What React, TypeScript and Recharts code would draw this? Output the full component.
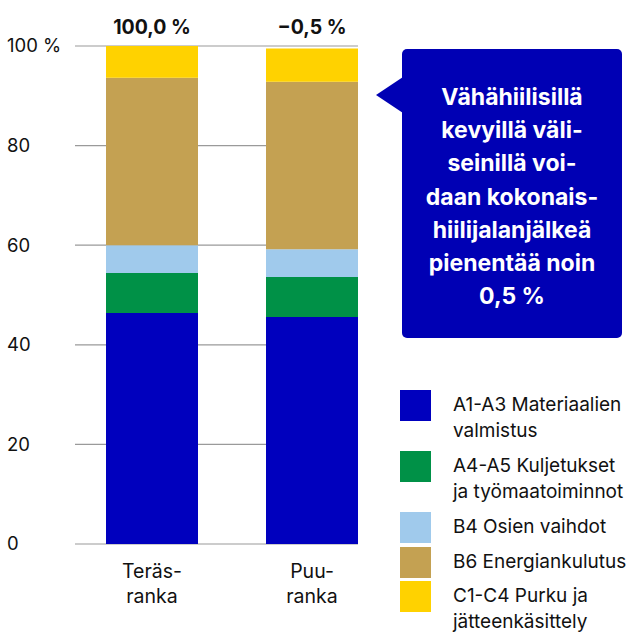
import { BarChart, Bar, XAxis, YAxis, CartesianGrid, LabelList } from "recharts";

const categories = ["Teräsranka", "Puuranka"];
const categoryLines = [
  ["Teräs-", "ranka"],
  ["Puu-", "ranka"],
];
const a1a3 = [46.4, 45.6];
const a4a5 = [8.0, 8.0];
const b4 = [5.6, 5.6];
const b6 = [33.6, 33.6];
const c1c4 = [6.4, 6.7];
const totals = ["100,0 %", "\u22120,5 %"];
const yTicks = [0, 20, 40, 60, 80, 100];

const seriesKeys = ["a1a3", "a4a5", "b4", "b6", "c1c4"];
const seriesColors = ["#0000BE", "#009147", "#A0CAEC", "#C4A152", "#FFD200"];
const seriesLabels = [
  ["A1-A3 Materiaalien", "valmistus"],
  ["A4-A5 Kuljetukset", "ja työmaatoiminnot"],
  ["B4 Osien vaihdot"],
  ["B6 Energiankulutus"],
  ["C1-C4 Purku ja", "jätteenkäsittely"],
];
const calloutLines = [
  "Vähähiilisillä",
  "kevyillä väli-",
  "seinillä voi-",
  "daan kokonais-",
  "hiilijalanjälkeä",
  "pienentää noin",
  "0,5 %",
];

const data = categories.map((name, i) => ({
  name,
  a1a3: a1a3[i],
  a4a5: a4a5[i],
  b4: b4[i],
  b6: b6[i],
  c1c4: c1c4[i],
}));

const FONT = "Inter, 'Noto Sans', sans-serif";

function YTick(props: any) {
  const { y, payload } = props;
  const label = payload.value === 100 ? "100 %" : String(payload.value);
  return (
    <text x={7} y={y} dy="0.35em" textAnchor="start" fill="#111" fontSize={18.5} fontFamily={FONT}>
      {label}
    </text>
  );
}

function XTick(props: any) {
  const { x, y, index } = props;
  const lines = categoryLines[index] ?? [];
  return (
    <text x={x} y={y} textAnchor="middle" fill="#111" fontSize={19.5} fontFamily={FONT}>
      {lines.map((l, i) => (
        <tspan key={i} x={x} dy={i === 0 ? 26 : 25}>
          {l}
        </tspan>
      ))}
    </text>
  );
}

function TotalLabel(props: any) {
  const { x, width, index } = props;
  return (
    <text
      x={Number(x) + Number(width) / 2}
      y={27}
      dy="0.35em"
      textAnchor="middle"
      fill="#111"
      fontSize={19.5}
      fontWeight={700}
      fontFamily={FONT}
    >
      {totals[index]}
    </text>
  );
}

export default function App() {
  return (
    <div style={{ position: "absolute", left: 0, top: 0, width: 636, height: 633, background: "#fff", overflow: "hidden" }}>
      <BarChart
        width={636}
        height={633}
        data={data}
        margin={{ top: 46, right: 278, bottom: 59, left: 0 }}
        barSize={92}
      >
        <CartesianGrid vertical={false} stroke="#9a9a9a" strokeWidth={1.2} />
        <XAxis
          dataKey="name"
          axisLine={false}
          tickLine={false}
          tick={<XTick />}
          height={30}
          padding={{ left: -3, right: -34 }}
          interval={0}
        />
        <YAxis
          type="number"
          domain={[0, 100]}
          ticks={yTicks}
          width={75}
          axisLine={false}
          tickLine={false}
          tick={<YTick />}
        />
        {seriesKeys.map((k, i) => (
          <Bar key={k} dataKey={k} stackId="s" fill={seriesColors[i]} isAnimationActive={false}>
            {k === "c1c4" && <LabelList dataKey={k} content={<TotalLabel />} />}
          </Bar>
        ))}
      </BarChart>

      {/* callout */}
      <div
        style={{
          position: "absolute",
          left: 376,
          top: 77,
          width: 0,
          height: 0,
          borderTop: "18px solid transparent",
          borderBottom: "18px solid transparent",
          borderRight: "27px solid #0000B4",
        }}
      />
      <div
        style={{
          position: "absolute",
          left: 402,
          top: 49,
          width: 220,
          height: 289,
          background: "#0000B4",
          borderRadius: 5,
          boxSizing: "border-box",
          paddingTop: 32,
          color: "#fff",
          fontFamily: FONT,
          fontWeight: 700,
          fontSize: 23,
          lineHeight: "33.2px",
          textAlign: "center",
        }}
      >
        {calloutLines.map((l, i) => (
          <div key={i}>{l}</div>
        ))}
      </div>

      {/* legend */}
      <div style={{ position: "absolute", left: 400, top: 390, fontFamily: FONT, fontSize: 19, color: "#111" }}>
        {seriesLabels.map((lines, i) => (
          <div key={i} style={{ display: "flex", marginBottom: lines.length > 1 ? 7 : 3.5 }}>
            <div style={{ width: 31, height: 31, background: seriesColors[i], flex: "none" }} />
            <div style={{ marginLeft: 22, lineHeight: "26px", paddingTop: 2, whiteSpace: "nowrap" }}>
              {lines.map((l, j) => (
                <div key={j}>{l}</div>
              ))}
            </div>
          </div>
        ))}
      </div>
    </div>
  );
}
